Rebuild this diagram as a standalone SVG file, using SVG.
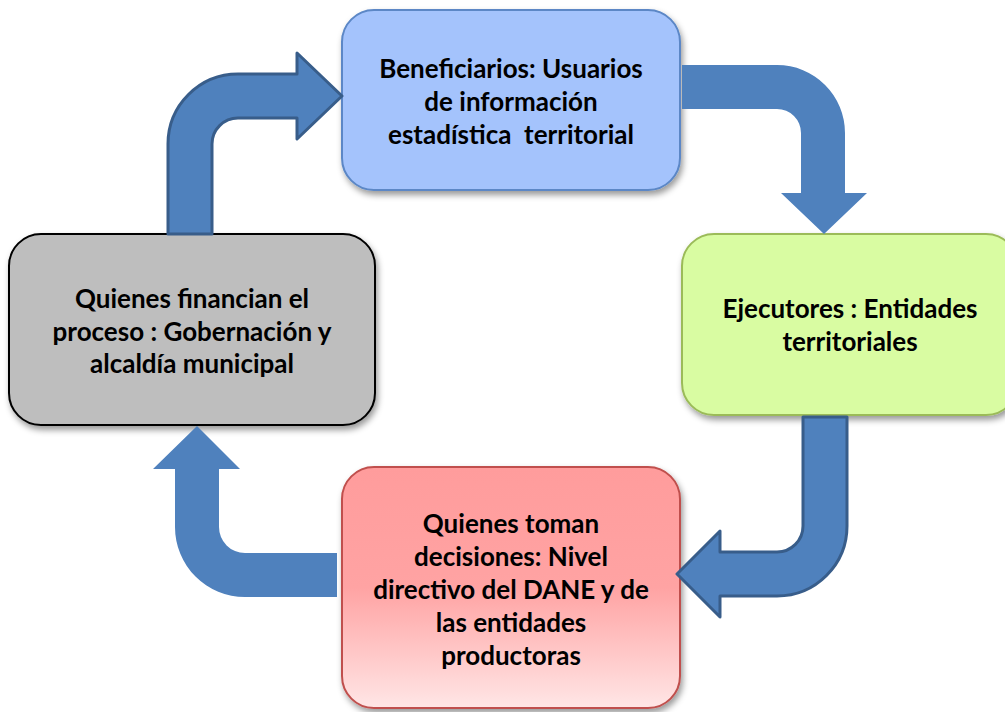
<svg xmlns="http://www.w3.org/2000/svg" width="1005" height="712" viewBox="0 0 1005 712">
<defs>
<filter id="sh" x="-10%" y="-10%" width="130%" height="130%">
<feDropShadow dx="2" dy="4" stdDeviation="3" flood-color="#000" flood-opacity="0.4"/>
</filter>
<linearGradient id="redg" x1="0" y1="0" x2="0" y2="1">
<stop offset="0" stop-color="#ff9c9c"/>
<stop offset="0.5" stop-color="#ffa3a3"/>
<stop offset="1" stop-color="#ffe6e6"/>
</linearGradient>
<style>
.lbl{font-family:Lato,"Liberation Sans",sans-serif;font-weight:bold;font-size:26px;fill:#000;text-anchor:middle;white-space:pre}
.arr{fill:#4f81bd}
.arrs{fill:#4f81bd;stroke:#385d8a;stroke-width:3;stroke-linejoin:round}
</style>
</defs>
<rect width="1005" height="712" fill="#fff"/>
<g id="n_beneficiarios">
<rect x="342" y="10" width="338" height="180" rx="32" fill="#a4c3fc" stroke="#5b87c6" stroke-width="2" filter="url(#sh)"/>
<text class="lbl" x="511" y="78">Beneficiarios: Usuarios</text>
<text class="lbl" x="511" y="111">de información</text>
<text class="lbl" x="511" y="144" xml:space="preserve">estadística  territorial</text>
</g>
<g id="n_ejecutores">
<rect x="682" y="234" width="336" height="181" rx="32" fill="#d9fca2" stroke="#9bbb59" stroke-width="2" filter="url(#sh)"/>
<text class="lbl" x="850" y="318">Ejecutores : Entidades</text>
<text class="lbl" x="850" y="351">territoriales</text>
</g>
<g id="n_financian">
<rect x="9" y="234" width="366" height="191" rx="32" fill="#bebebe" stroke="#000" stroke-width="2" filter="url(#sh)"/>
<text class="lbl" x="192" y="308">Quienes financian el</text>
<text class="lbl" x="192" y="341">proceso : Gobernación y</text>
<text class="lbl" x="192" y="373">alcaldía municipal</text>
</g>
<g id="n_decisiones">
<rect x="342" y="467" width="338" height="241" rx="32" fill="url(#redg)" stroke="#c0504d" stroke-width="2" filter="url(#sh)"/>
<text class="lbl" x="511" y="533">Quienes toman</text>
<text class="lbl" x="511" y="566">decisiones: Nivel</text>
<text class="lbl" x="511" y="599">directivo del DANE y de</text>
<text class="lbl" x="511" y="632">las entidades</text>
<text class="lbl" x="511" y="665">productoras</text>
</g>
<g id="connectors">
<path class="arrs" d="M168,234 L168,144 A70,70 0 0 1 238,74 L297,74 L297,53 L342,96 L297,139 L297,118 L238,118 A26,26 0 0 0 212,144 L212,234 Z"/>
<path class="arr" d="M682,65 L777,65 A68,68 0 0 1 845,133 L845,193 L867,193 L824,234 L781,193 L801,193 L801,133 A24,24 0 0 0 777,109 L682,109 Z"/>
<path class="arrs" d="M803,417 L847,417 L847,526 A70,70 0 0 1 777,596 L720,596 L720,617 L677,574 L720,531 L720,552 L777,552 A26,26 0 0 0 803,526 Z"/>
<path class="arr" d="M337,553 L337,597 L245,597 A70,70 0 0 1 175,527 L175,469 L153,469 L197,426 L240,469 L219,469 L219,527 A26,26 0 0 0 245,553 Z"/>
</g>
</svg>
